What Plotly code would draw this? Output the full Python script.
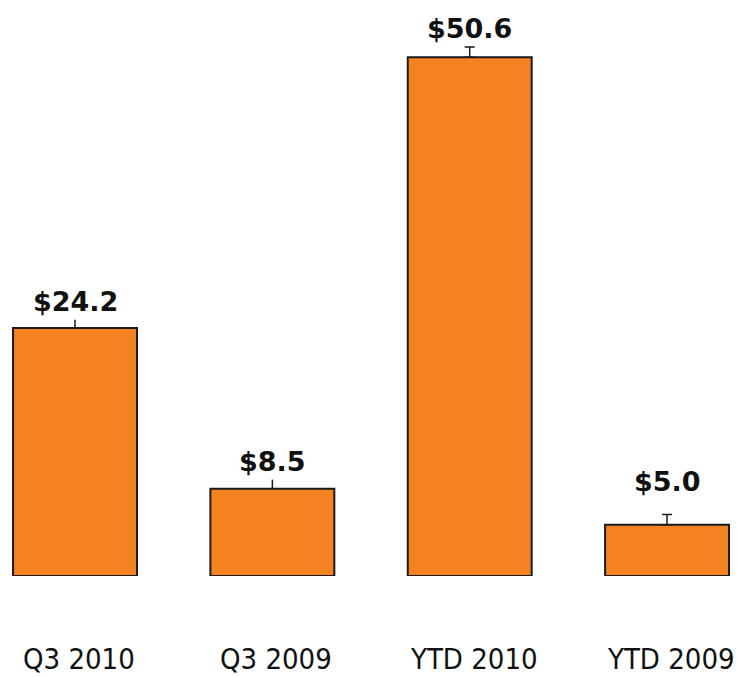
import plotly.graph_objects as go

categories = ["Q3 2010", "Q3 2009", "YTD 2010", "YTD 2009"]
values = [24.2, 8.5, 50.6, 5.0]
errors = [0.8, 0.9, 1.0, 1.0]
labels = ["$24.2", "$8.5", "$50.6", "$5.0"]
label_shift = [1, 1, 1, 15]
cap_widths = [0, 0, 5, 5]

xs = list(range(len(categories)))
fig = go.Figure()
for grp in (slice(0, 2), slice(2, 4)):
    fig.add_trace(go.Bar(
        x=xs[grp], y=values[grp], width=0.628,
        marker=dict(color="#F58220", line=dict(color="#1a1a1a", width=2)),
        error_y=dict(type="data", array=errors[grp], arrayminus=[0] * len(values[grp]),
                     symmetric=False, color="#1a1a1a", thickness=1.5,
                     width=cap_widths[grp][0]),
        showlegend=False, hoverinfo="skip",
    ))

for i, c in enumerate(categories):
    fig.add_annotation(x=xs[i], y=values[i] + errors[i], text="<b>" + labels[i] + "</b>",
                       showarrow=False, yanchor="bottom", yshift=label_shift[i],
                       font=dict(family="DejaVu Sans", size=27, color="#111"))
    fig.add_annotation(x=xs[i], xshift=4, y=0, yref="y", text=c, showarrow=False,
                       yanchor="middle", yshift=-83,
                       font=dict(family="DejaVu Sans Condensed", size=29, color="#111"))

fig.update_layout(
    width=739, height=669, margin=dict(l=0, r=0, t=0, b=101),
    plot_bgcolor="white", paper_bgcolor="white", barmode="overlay",
    xaxis=dict(range=[-0.3395, 3.405], showticklabels=False, showgrid=False,
               zeroline=False, showline=False, ticks=""),
    yaxis=dict(range=[0, 55.41], visible=False),
)
fig.write_html("out.html")
